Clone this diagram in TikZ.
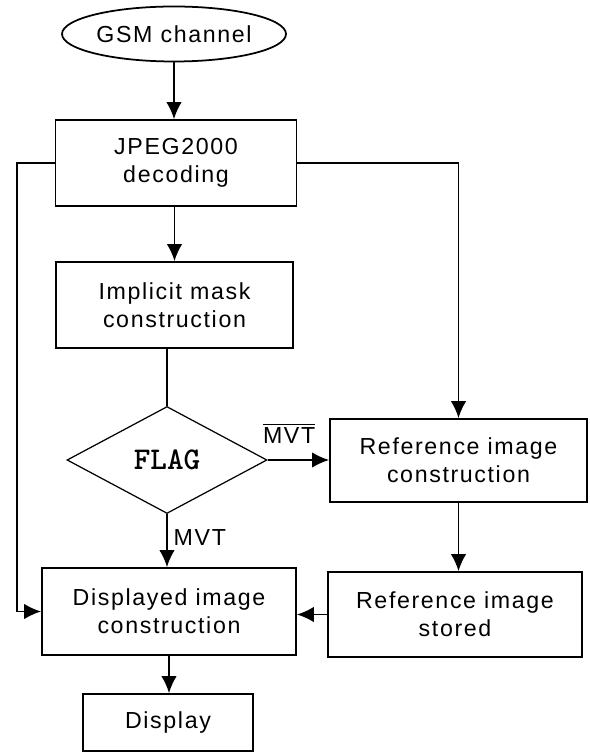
\documentclass[tikz,border=0pt]{standalone}
\usepackage{fontspec}
\setmainfont{Liberation Sans}[LetterSpace=7]
\usetikzlibrary{shapes.geometric,arrows.meta}

\begin{document}
\begin{tikzpicture}[>={Latex[length=3.4mm,width=3.1mm]},line width=1pt,
  font=\fontsize{13.2}{16}\selectfont,
  block/.style={draw, align=center, inner sep=0pt}]
  \useasboundingbox (0,0) rectangle (11.78,-15.08);

  % Flow nodes
  \node[draw, ellipse, inner sep=0pt, minimum width=4.48cm, minimum height=1.1cm] (Gsm) at (3.48,-0.68) {GSM channel};
  \node[block, minimum width=4.82cm, minimum height=1.72cm] (Jpeg) at (3.52,-3.26) {JPEG2000\\decoding};
  \node[block, minimum width=4.74cm, minimum height=1.72cm] (Mask) at (3.49,-6.10) {Implicit mask\\construction};
  \node[draw, diamond, line width=0.7pt, aspect=1.87, inner sep=0pt, minimum width=4.0cm, minimum height=2.14cm,
    font=\ttfamily\bfseries\fontsize{18}{18}\selectfont] (Flag) at (3.34,-9.20) {FLAG};
  \node[block, minimum width=5.14cm, minimum height=1.66cm] (RefC) at (9.17,-9.21) {Reference image\\construction};
  \node[block, minimum width=5.08cm, minimum height=1.74cm] (Disp) at (3.38,-12.23) {Displayed image\\construction};
  \node[block, minimum width=5.08cm, minimum height=1.70cm] (RefS) at (9.10,-12.29) {Reference image\\stored};
  \node[block, minimum width=3.4cm, minimum height=1.14cm] (Display) at (3.36,-14.45) {Display};

  % Flow arrows
  \draw[->] (Gsm.south) -- (Gsm.south |- Jpeg.north);
  \draw[->] (Jpeg.south -| Mask.north) -- (Mask.north);
  \draw (Mask.south -| Flag.north) -- (Flag.north);
  \draw[->] (Flag.east) -- node[above=2mm, pos=0.35] {$\overline{\mbox{MVT}}$} (Flag.east -| RefC.west);
  \draw[->] (Flag.south) -- node[right, pos=0.45] {MVT} (Flag.south |- Disp.north);
  \draw[->] (Jpeg.west) -- ++(-0.75,0) |- (Disp.west);
  \draw[->] (Jpeg.east) -| (RefC.north);
  \draw[->] (RefC.south) -- (RefC.south |- RefS.north);
  \draw[->] (RefS.west) -- (RefS.west -| Disp.east);
  \draw[->] (Disp.south) -- (Disp.south |- Display.north);
\end{tikzpicture}
\end{document}
